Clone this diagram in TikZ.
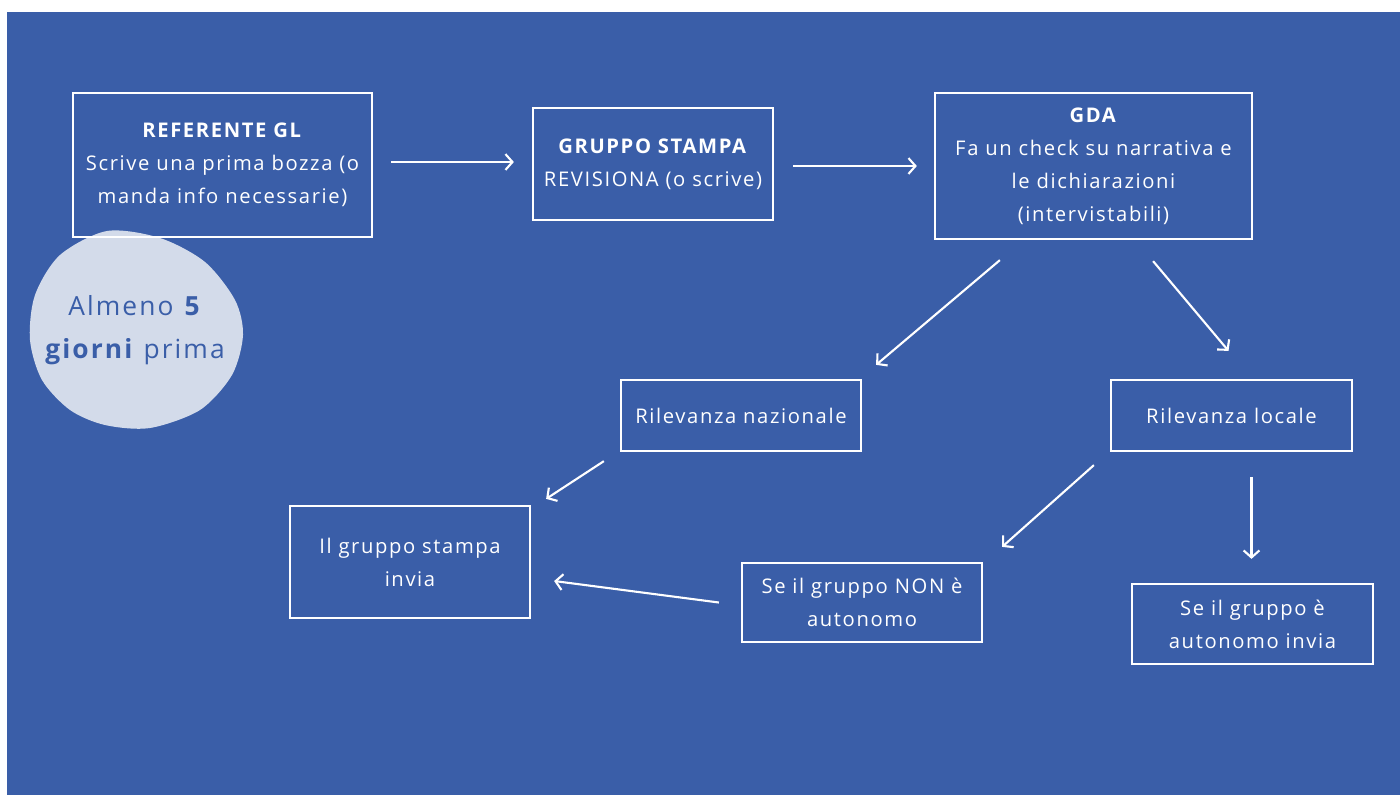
\documentclass[tikz,border=0pt]{standalone}
\usepackage{fontspec}
\setmainfont[LetterSpace=8]{Open Sans}
\usetikzlibrary{arrows.meta,calc}
\definecolor{bgblue}{HTML}{3A5EA8}
\definecolor{blobgrey}{HTML}{D3DBEA}

\begin{document}
\begin{tikzpicture}[x=0.02cm, y=-0.02cm,
    box/.style={draw=white, line width=1.3pt, text=white, align=center, inner sep=0pt, font=\fontsize{11.5}{18.8}\selectfont},
    arr/.style={-{Straight Barb[length=4pt,width=9pt]}, white, line width=1.2pt}]
    \useasboundingbox (0,0) rectangle (1400,795);
    \fill[bgblue] (7,12) rectangle (1400,795);

    % blob with the deadline
    \fill[blobgrey] plot[smooth cycle] coordinates {(107,231) (160,238) (205,262) (235,300) (243,335) (232,375) (200,410) (150,428) (105,425) (70,410) (42,380) (30,340) (35,295) (60,255)};
    \node[text=bgblue, align=center, font=\fontsize{15}{24.4}\selectfont] (NOTE) at (135,330) {Almeno \textbf{5}\\\textbf{giorni} prima};

    \node[box, minimum width=5.98cm, minimum height=2.88cm] (REF) at (222.5,165) {\textbf{REFERENTE GL}\\Scrive una prima bozza (o\\manda info necessarie)};
    \node[box, minimum width=4.8cm, minimum height=2.24cm] (GS) at (653,164) {\textbf{GRUPPO STAMPA}\\REVISIONA (o scrive)};
    \node[box, minimum width=6.34cm, minimum height=2.92cm] (GDA) at (1093.5,166) {\textbf{GDA}\\Fa un check su narrativa e\\le dichiarazioni\\(intervistabili)};
    \node[box, minimum width=4.8cm, minimum height=1.42cm] (RN) at (741,415.5) {Rilevanza nazionale};
    \node[box, minimum width=4.82cm, minimum height=1.42cm] (RL) at (1231.5,415.5) {Rilevanza locale};
    \node[box, minimum width=4.8cm, minimum height=2.24cm] (IGS) at (410,562) {Il gruppo stampa\\invia};
    \node[box, minimum width=4.8cm, minimum height=1.58cm] (NON) at (862,602.5) {Se il gruppo NON è\\autonomo};
    \node[box, minimum width=4.82cm, minimum height=1.6cm] (AUT) at (1252.5,624) {Se il gruppo è\\autonomo invia};

    \path [arr] ($(REF.east)+(18,-3)$) edge ($(GS.west)+(-18,-2)$);
    \path [arr] ($(GS.east)+(19,2)$) edge ($(GDA.west)+(-17,0)$);
    \path [arr] ($(GDA.south west)+(66,20)$) edge ($(RN.north east)+(14,-14)$);
    \path [arr] ($(GDA.south east)+(-100,21)$) edge ($(RL.north)+(-3,-28)$);
    \path [arr] ($(RN.south west)+(-16,9)$) edge ($(IGS.north east)+(15,-6)$);
    \path [arr] ($(RL.south west)+(-16,13)$) edge ($(NON.north east)+(19,-15)$);
    \path [arr] ($(RL.south)+(20,25)$) edge ($(AUT.north)+(-1,-24)$);
    \path [arr] ($(NON.west)+(-22,0)$) edge ($(IGS.east)+(23,19)$);

\end{tikzpicture}
\end{document}
